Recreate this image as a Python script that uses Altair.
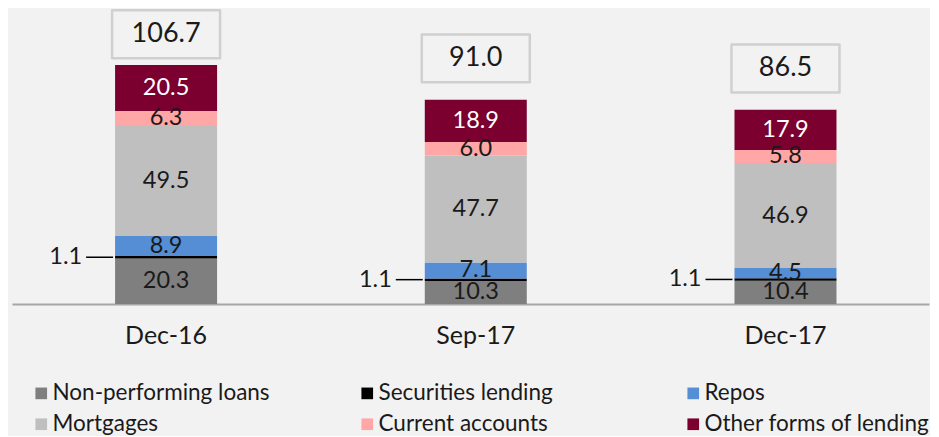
import altair as alt
import pandas as pd

categories = ["Dec-16", "Sep-17", "Dec-17"]
series = ["Non-performing loans", "Securities lending", "Repos",
          "Mortgages", "Current accounts", "Other forms of lending"]
colors = ["#7F7F7F", "#000000", "#558ED5", "#BFBFBF", "#FFA6A6", "#7B0030"]

non_performing = [20.3, 10.3, 10.4]
securities_lending = [1.1, 1.1, 1.1]
repos = [8.9, 7.1, 4.5]
mortgages = [49.5, 47.7, 46.9]
current_accounts = [6.3, 6.0, 5.8]
other_lending = [20.5, 18.9, 17.9]
totals = [106.7, 91.0, 86.5]

values = [non_performing, securities_lending, repos, mortgages,
          current_accounts, other_lending]

rows = []
for si, (s, vals) in enumerate(zip(series, values)):
    for ci, c in enumerate(categories):
        rows.append({"cat": c, "series": s, "order": si, "value": vals[ci]})
df = pd.DataFrame(rows)
tot_df = pd.DataFrame({"cat": categories, "total": totals})

W, H = 917, 295
YMAX = H / 2.243

xscale = alt.Scale(domain=categories, paddingInner=0.6707, paddingOuter=0.3158, align=0.527)
yscale = alt.Scale(domain=[0, YMAX], nice=False, zero=True)

x_enc = alt.X("cat:N", sort=categories, scale=xscale,
              axis=alt.Axis(title=None, labelAngle=0, ticks=False, labelFontSize=25,
                            labelColor="#1A1A1A", labelPadding=19, domainColor="#A6A6A6",
                            domainWidth=2))

base = alt.Chart(df).transform_stack(
    stack="value", groupby=["cat"], as_=["y0", "y1"],
    sort=[alt.SortField("order", order="ascending")]
).transform_calculate(mid="(datum.y0 + datum.y1) / 2")

bars = base.mark_bar().encode(
    x=x_enc,
    y=alt.Y("y0:Q", scale=yscale, axis=None),
    y2="y1:Q",
    color=alt.Color("series:N", scale=alt.Scale(domain=series, range=colors),
                    legend=alt.Legend(title=None, orient="none", legendX=18, legendY=373,
                                      padding=0, direction="horizontal", columns=3,
                                      gridAlign="all", columnPadding=78, rowPadding=8,
                                      symbolType="square", symbolSize=136,
                                      symbolStrokeWidth=0, labelFontSize=22.5,
                                      labelColor="#1A1A1A", labelOffset=0, labelLimit=400)),
)

labels = base.transform_filter(alt.datum.series != "Securities lending").mark_text(
    fontSize=23.5, baseline="middle", align="center"
).encode(
    x=alt.X("cat:N", sort=categories, scale=xscale),
    y=alt.Y("mid:Q", scale=yscale),
    text=alt.Text("value:Q", format=".1f"),
    color=alt.condition(alt.datum.series == "Other forms of lending",
                        alt.value("#FFFFFF"), alt.value("#1A1A1A")),
)

sec_tick = base.transform_filter(alt.datum.series == "Securities lending").mark_tick(
    orient="horizontal", size=27, thickness=1.5, color="#000000", xOffset=-66.5, opacity=1
).encode(
    x=alt.X("cat:N", sort=categories, scale=xscale),
    y=alt.Y("mid:Q", scale=yscale),
)

sec_text = base.transform_filter(alt.datum.series == "Securities lending").mark_text(
    fontSize=23.5, align="right", baseline="middle", xOffset=-84, color="#1A1A1A"
).encode(
    x=alt.X("cat:N", sort=categories, scale=xscale),
    y=alt.Y("mid:Q", scale=yscale),
    text=alt.Text("value:Q", format=".1f"),
)

tot_base = alt.Chart(tot_df).transform_calculate(
    box_y="min(datum.total + 18.5, 120.3)"
)

box_path = "M-1,-0.444L1,-0.444L1,0.444L-1,0.444Z"
boxes = tot_base.mark_point(
    shape=box_path, size=11664, filled=True, fill="#F2F2F2", stroke="#D0D0D0",
    strokeWidth=2.5, opacity=1, strokeJoin="round"
).encode(
    x=alt.X("cat:N", sort=categories, scale=xscale),
    y=alt.Y("box_y:Q", scale=yscale),
)

tot_text = tot_base.mark_text(fontSize=27, baseline="middle", color="#1A1A1A").encode(
    x=alt.X("cat:N", sort=categories, scale=xscale),
    y=alt.Y("box_y:Q", scale=yscale),
    text=alt.Text("total:Q", format=".1f"),
)

chart = alt.layer(bars, labels, sec_tick, sec_text, boxes, tot_text).properties(
    width=W, height=H, background="#F2F2F2",
    padding={"left": 4, "top": 0, "right": 0, "bottom": 0},
).configure(font="Lato").configure_view(stroke=None)

chart.save("out.html", embed_options={"renderer": "svg", "actions": False})
